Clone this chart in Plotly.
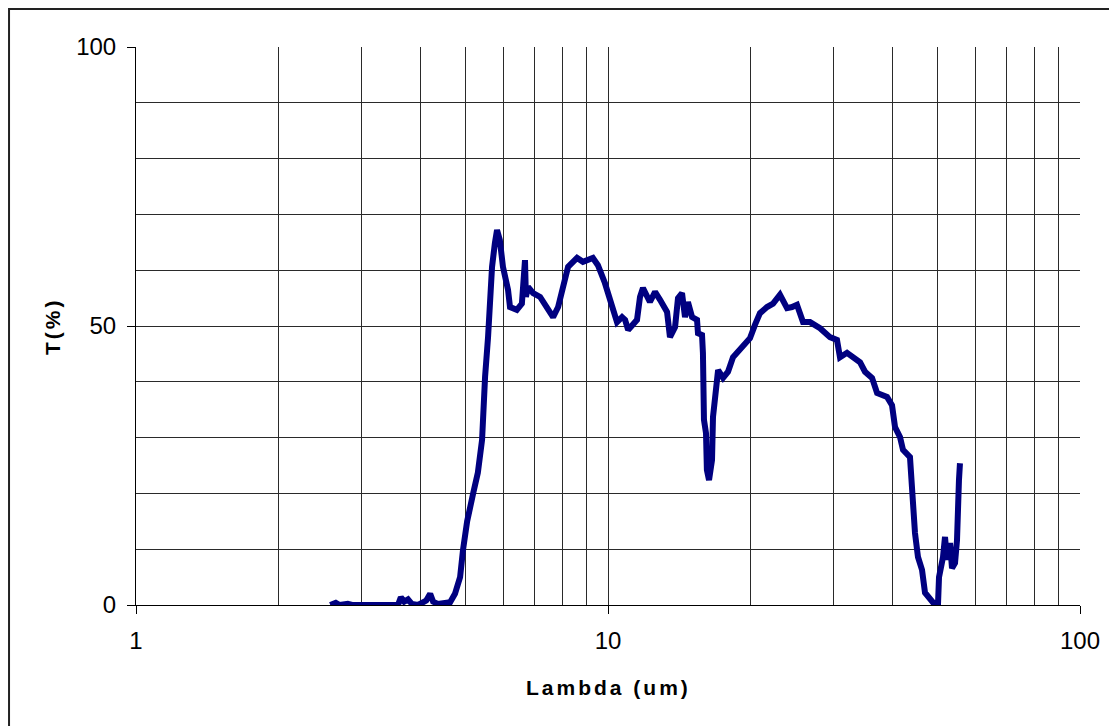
import plotly.graph_objects as go

# Wavelength (um) and transmission (%)
lambda_um = [
    2.58, 2.65, 2.70, 2.81, 2.87, 3.29, 3.35, 3.42, 3.59, 3.64, 3.70, 3.77, 3.84,
    3.96, 4.04, 4.12, 4.20, 4.26, 4.36, 4.52, 4.63, 4.74, 4.86, 4.93, 5.03, 5.18,
    5.30, 5.41, 5.43, 5.49, 5.57, 5.62, 5.68, 5.76, 5.82, 5.90, 5.99, 6.14, 6.20,
    6.41, 6.57, 6.67, 6.70, 6.77, 6.94, 7.18, 7.35, 7.65, 7.84, 8.11, 8.23, 8.60,
    8.85, 9.29, 9.52, 9.85, 10.20, 10.45, 10.71, 10.87, 11.03, 11.52, 11.69, 11.86,
    12.27, 12.58, 12.89, 13.34, 13.53, 13.87, 14.07, 14.35, 14.56, 14.77, 15.07,
    15.44, 15.51, 15.82, 15.89, 15.97, 16.13, 16.20, 16.37, 16.61, 16.69, 16.86,
    17.11, 17.53, 17.96, 18.40, 19.32, 19.99, 20.48, 20.99, 21.72, 22.37, 23.14,
    23.95, 24.54, 25.14, 25.89, 26.79, 28.13, 29.53, 30.56, 31.01, 32.09, 33.04,
    34.20, 35.04, 36.26, 37.16, 39.01, 39.97, 40.56, 41.56, 42.17, 43.63, 44.06,
    44.71, 45.37, 46.27, 46.95, 48.11, 49.30, 50.03, 50.27, 51.26, 51.76, 52.27,
    53.04, 53.56, 54.35, 54.88, 55.00, 55.41, 55.68,
]
transmission = [
    0.0, 0.4, 0.0, 0.2, 0.0, 0.0, 0.2, 0.0, 0.0, 1.4, 0.6, 1.0, 0.2,
    0.0, 0.4, 0.8, 2.0, 0.6, 0.2, 0.5, 0.5, 2.0, 5.0, 9.9, 15.0, 20.0,
    23.7, 29.6, 33.7, 40.9, 48.0, 54.0, 60.6, 64.9, 67.2, 65.4, 60.6, 56.5, 53.4,
    52.9, 54.0, 61.8, 55.2, 57.0, 55.9, 55.2, 54.0, 51.6, 53.4, 58.2, 60.6, 62.2,
    61.5, 62.2, 60.9, 57.7, 53.4, 50.7, 51.6, 51.1, 49.3, 51.1, 55.2, 56.8,
    54.3, 56.1, 54.7, 52.5, 48.0, 49.8, 55.0, 55.9, 51.6, 54.3, 51.6,
    51.1, 48.7, 48.4, 45.2, 33.2, 30.8, 24.2, 22.4, 26.0, 33.7, 38.5,
    42.1, 40.7, 41.8, 44.4, 46.6, 47.8, 50.2, 52.3, 53.4, 54.0, 55.6,
    53.2, 53.4, 53.8, 50.7, 50.7, 49.6, 48.0, 47.5, 44.4, 45.2, 44.4,
    43.5, 41.8, 40.7, 38.0, 37.3, 35.8, 31.9, 30.1, 27.8, 26.5, 20.0,
    12.9, 8.6, 6.3, 2.2, 0.9, 0.0, 0.3, 5.0, 8.6, 12.2, 8.1,
    11.1, 6.6, 7.5, 11.6, 17.0, 22.4, 25.4,
]

x_ticks = [1, 10, 100]
x_minor = [2, 3, 4, 5, 6, 7, 8, 9, 20, 30, 40, 50, 60, 70, 80, 90]
y_ticks = [0, 50, 100]

FONT = "Liberation Sans, Arial, sans-serif"
GRID = "#2a2a2a"

fig = go.Figure()
fig.add_trace(go.Scatter(
    x=lambda_um, y=transmission, mode="lines",
    line=dict(color="#000080", width=6),
    showlegend=False,
))

fig.update_layout(
    width=1109, height=718,
    margin=dict(l=128, r=37, t=39, b=121),
    paper_bgcolor="white", plot_bgcolor="white",
    font=dict(family=FONT, size=24, color="black"),
    xaxis=dict(
        type="log", range=[0, 2],
        tickmode="array", tickvals=x_ticks, ticktext=[str(v) for v in x_ticks],
        ticks="outside", ticklen=8, tickcolor="black", ticklabelstandoff=6,
        showline=True, linecolor="black", linewidth=1,
        showgrid=True, gridcolor=GRID, gridwidth=1,
        minor=dict(tickmode="array", tickvals=x_minor, showgrid=True,
                   gridcolor=GRID, gridwidth=1, ticks=""),
        zeroline=False,
    ),
    yaxis=dict(
        range=[0, 100],
        tickmode="array", tickvals=y_ticks,
        ticks="outside", ticklen=8, tickcolor="black", ticklabelstandoff=6,
        showline=True, linecolor="black", linewidth=1,
        showgrid=True, gridcolor=GRID, gridwidth=1,
        minor=dict(dtick=10, showgrid=True, gridcolor=GRID, gridwidth=1, ticks=""),
        zeroline=False,
    ),
    shapes=[dict(
        type="rect", xref="paper", yref="paper",
        x0=-0.1345, x1=1.2, y0=-0.5, y1=1.0681,
        line=dict(color="#222222", width=2), fillcolor="rgba(0,0,0,0)",
        layer="below",
    )],
    annotations=[
        dict(text="<b><span style='letter-spacing:3px'>Lambda (um)</span></b>",
             xref="paper", yref="paper", x=0.5, y=-0.1487,
             xanchor="center", yanchor="middle", showarrow=False,
             font=dict(family=FONT, size=21, color="black")),
        dict(text="<b><span style='letter-spacing:3px'>T(%)</span></b>",
             xref="paper", yref="paper", x=-0.089, y=0.5, textangle=-90,
             xanchor="center", yanchor="middle", showarrow=False,
             font=dict(family=FONT, size=21, color="black")),
    ],
)

fig.write_html("out.html")
